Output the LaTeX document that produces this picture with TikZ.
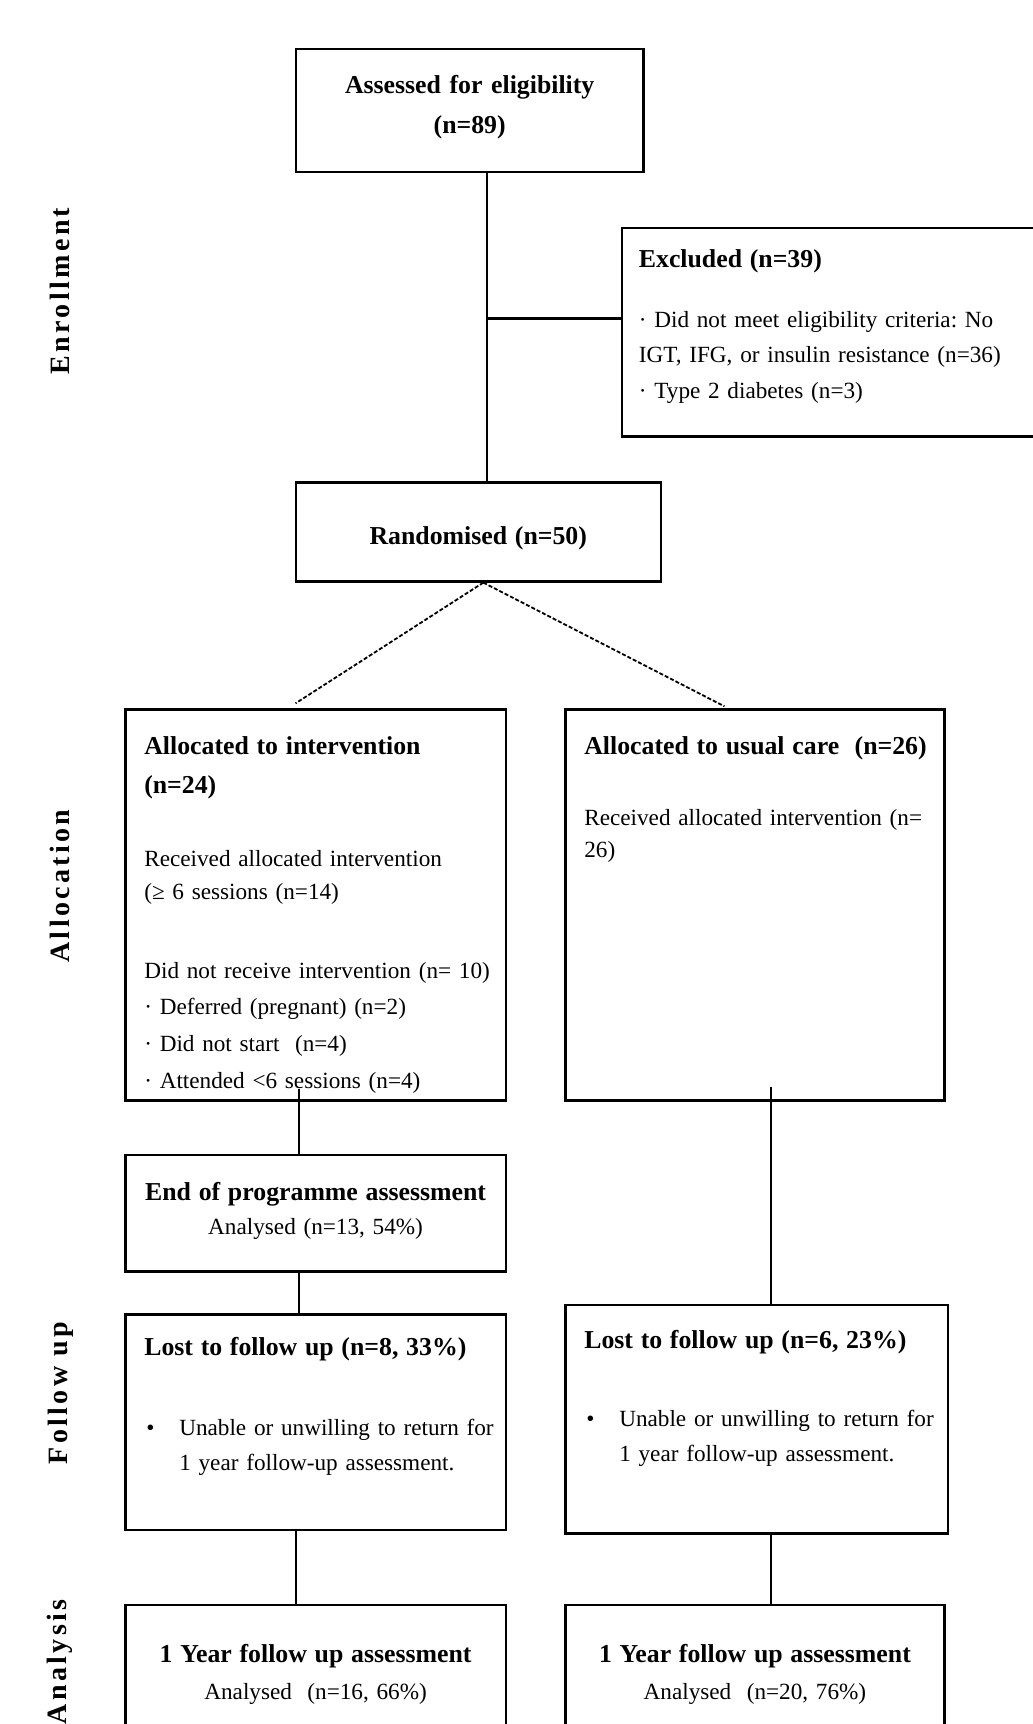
\documentclass[tikz,border=0pt]{standalone}
\usepackage{fontspec}
\setmainfont{Liberation Serif}
\newcommand{\boxhead}[1]{{\fontsize{12.9}{18}\selectfont\bfseries #1}}
\newcommand{\lostitem}{\mbox{\makebox[17.5pt][l]{\hspace{1pt}\textbullet}Unable or unwilling to return for}\\[-0.5pt]\hspace*{17.5pt}1 year follow-up assessment.}

\begin{document}
\begin{tikzpicture}[x=0.5pt, y=-0.5pt,
  panel/.style={draw, line width=1.3pt, anchor=north west, inner xsep=9.5pt, inner ysep=0pt, align=left, font=\fontsize{11.6}{18}\selectfont\frenchspacing},
  link/.style={line width=1.1pt},
  randline/.style={line width=0.9pt, dash pattern=on 2pt off 1pt},
  phase/.style={rotate=90, font=\fontsize{14}{16}\selectfont\bfseries\addfontfeature{LetterSpace=12}}]
  \useasboundingbox (0,0) rectangle (1033,1724);

  % stage labels
  \node[phase] (lblenrol) at (60,291) {Enrollment};
  \node[phase] (lblalloc) at (60,886) {Allocation};
  \node[phase] (lblfollow) at (61,1393) {Follow up};
  \node[phase] (lblanalys) at (60,1662) {Analysis};

  % enrollment
  \node[panel, align=center, text width=154.9pt, text height=22pt, text depth=39.5pt,
    font=\fontsize{12.9}{20}\selectfont\bfseries] (assess) at (294.5,47.8) {Assessed for eligibility\\(n=89)};
  \node[panel, inner xsep=8.5pt, text width=195.5pt, text height=20pt, text depth=84.2pt,
    font=\fontsize{11.6}{17.5}\selectfont\frenchspacing] (excl) at (620.6,226.6)
    {\boxhead{Excluded (n=39)}\\[12.5pt]
     · Did not meet eligibility criteria: No\\
     \mbox{IGT, IFG, or insulin resistance (n=36)}\\[0.5pt]
     · Type 2 diabetes (n=3)};
  \node[panel, align=center, text width=163.5pt, text height=31pt, text depth=18.5pt] (rand) at (294.5,481)
    {\boxhead{Randomised (n=50)}};

  % allocation
  \node[panel, text width=171.3pt, text height=22.5pt, text depth=172.85pt] (alloc1) at (124,708.3)
    {\boxhead{Allocated to intervention}\\[1.5pt]
     \boxhead{(n=24)}\\[18.5pt]
     Received allocated intervention\\[-1.5pt]
     (≥ 6 sessions (n=14)\\[21.5pt]
     \mbox{Did not receive intervention (n= 10)}\\
     · Deferred (pregnant) (n=2)\\[0.5pt]
     · Did not start~ (n=4)\\[0.5pt]
     · Attended <6 sessions (n=4)};
  \node[panel, text width=170.65pt, text height=22.5pt, text depth=172.85pt] (alloc2) at (564,708.3)
    {\mbox{\boxhead{Allocated to usual care~ (n=26)}}\\[17.5pt]
     \mbox{Received allocated intervention (n=}\\[-2pt]
     26)};
  \node[panel, align=center, text width=171.3pt, text height=22.5pt, text depth=35.6pt] (end) at (124,1153.8)
    {\boxhead{End of programme assessment}\\[-1pt]
     Analysed (n=13, 54\%)};

  % follow up
  \node[panel, text width=171.3pt, text height=20.5pt, text depth=87.25pt] (lost1) at (124,1313)
    {\boxhead{Lost to follow up (n=8, 33\%)}\\[22pt]
     \lostitem};
  \node[panel, text width=172.3pt, text height=21.7pt, text depth=92.5pt] (lost2) at (564,1303.6)
    {\boxhead{Lost to follow up (n=6, 23\%)}\\[21.3pt]
     \lostitem};

  % analysis
  \node[panel, align=center, text width=171.3pt, text height=28.5pt, text depth=59.5pt] (fu1) at (124,1603.7)
    {\boxhead{1 Year follow up assessment}\\[0.5pt]
     Analysed~ (n=16, 66\%)};
  \node[panel, align=center, text width=170.65pt, text height=28.5pt, text depth=59.5pt] (fu2) at (564,1603.7)
    {\boxhead{1 Year follow up assessment}\\[0.5pt]
     Analysed~ (n=20, 76\%)};

  % connectors
  \draw[link] ([xshift=4.5pt]rand.north) -- ([xshift=4.5pt]rand.north |- assess.south);
  \coordinate (branch) at (486,318.4);
  \draw[link] (branch) -- (branch -| excl.west);
  \draw[randline] ([xshift=2.5pt]rand.south) -- ([xshift=-10pt,yshift=2.5pt]alloc1.north);
  \draw[randline] ([xshift=2.5pt]rand.south) -- ([xshift=-15.3pt,yshift=1pt]alloc2.north);
  \draw[link] ([xshift=-8.25pt,yshift=6.5pt]alloc1.south) -- ([xshift=-8.25pt]end.north);
  \draw[link] ([xshift=7.9pt,yshift=7.5pt]alloc2.south) -- ([xshift=7.9pt]alloc2.south |- lost2.north);
  \draw[link] ([xshift=-8.25pt]end.south) -- ([xshift=-8.25pt]lost1.north);
  \draw[link] ([xshift=-9.9pt]lost1.south) -- ([xshift=-9.9pt]fu1.north);
  \draw[link] ([xshift=7.1pt]lost2.south) -- ([xshift=7.1pt]lost2.south |- fu2.north);
\end{tikzpicture}
\end{document}
